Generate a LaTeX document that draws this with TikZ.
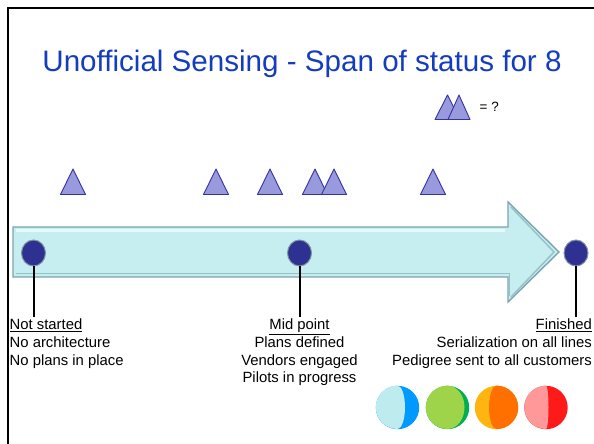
\documentclass[tikz,border=0pt]{standalone}
\usepackage{fontspec}
\setmainfont{Liberation Sans}
\usetikzlibrary{shapes.geometric}
\definecolor{titleblue}{RGB}{20,60,190}
\definecolor{trilav}{RGB}{153,153,221}
\definecolor{triedge}{RGB}{51,51,160}
\definecolor{navy}{RGB}{46,49,146}
\definecolor{dotedge}{RGB}{125,150,160}
\definecolor{arrfill}{RGB}{198,238,240}
\definecolor{arredge}{RGB}{125,165,175}
\definecolor{arrhi}{RGB}{228,249,250}
\definecolor{arrsh}{RGB}{150,195,200}
\definecolor{cAl}{RGB}{190,236,238}
\definecolor{cAd}{RGB}{0,153,255}
\definecolor{cBl}{RGB}{158,212,74}
\definecolor{cBd}{RGB}{0,176,80}
\definecolor{cCl}{RGB}{255,181,17}
\definecolor{cCd}{RGB}{255,112,0}
\definecolor{cDl}{RGB}{255,153,153}
\definecolor{cDd}{RGB}{255,26,26}
\begin{document}
\begin{tikzpicture}[x=1bp,y=-1bp,
  trifill/.style={fill=trilav, draw=triedge, line width=0.9bp, line join=round},
  tri/.pic={\path[trifill] (-12.5,12.75) -- (0,-12.75) -- (12.5,12.75) -- cycle;},
  dot/.style={ellipse, fill=navy, draw=dotedge, line width=1bp, minimum width=24bp, minimum height=26bp, inner sep=0pt},
  stem/.style={line width=2bp, black},
  lbl/.style={inner sep=0pt, font=\fontsize{14.9}{17.8}\selectfont},
  ball/.style={circle, minimum size=43.4bp, inner sep=0pt},
]
\useasboundingbox (0,0) rectangle (594,444);
\fill[white] (0,0) rectangle (594,444);
% frame
\draw[line width=2.4bp, black] (8,450) -- (8,8) -- (600,8);
% title
\node[anchor=base, inner sep=0pt, text=titleblue, font=\fontsize{29.7}{36}\selectfont] (title) at (302,72) {Unofficial Sensing - Span of status for 8};
% legend
\path[trifill] (435,119.5) -- (447.5,95) -- (460,119.5) -- cycle;
\path[trifill] (448,119.5) -- (459,95) -- (470,119.5) -- cycle;
\node[anchor=west, inner sep=0pt, font=\fontsize{13.5}{16}\selectfont] (legend) at (479.5,107) {= ?};
% triangles
\pic at (73,181.75) {tri};
\pic at (216,181.75) {tri};
\pic at (270,181.75) {tri};
\pic at (315,181.75) {tri};
\pic at (334,181.75) {tri};
\pic at (433,181.75) {tri};
% arrow
\path[fill=arrfill, draw=arredge, line width=1.4bp, line join=miter]
  (13,227) -- (508,227) -- (508,202) -- (559,252) -- (508,302) -- (508,277) -- (13,277) -- cycle;
\draw[arrhi, line width=2.5bp] (15.5,230.5) -- (505,230.5);
\draw[arrsh, line width=1.5bp] (15.5,273.5) -- (509.5,273.5) -- (509.5,296);
\draw[arrsh, line width=1.5bp] (511,207) -- (554,252) -- (511,297);
% dots
\node[dot] (d0) at (33.5,253) {};
\node[dot] (d1) at (299.5,253) {};
\node[dot] (d2) at (576,253) {};
\coordinate (e0) at (33.5,317);
\coordinate (e1) at (299.5,317);
\coordinate (e2) at (576,317);
\draw[stem] (d0.south) -- (e0);
\draw[stem] (d1.south) -- (e1);
\draw[stem] (d2.south) -- (e2);
% labels
\node[lbl, anchor=north west, align=left] (ns) at (9.5,318.8) {\underline{Not started}\\No architecture\\No plans in place};
\node[lbl, anchor=north, align=center] (mp) at (299.5,318.8) {\underline{Mid point}\\Plans defined\\Vendors engaged\\Pilots in progress};
\node[lbl, anchor=north east, align=right] (fi) at (592,318.8) {\underline{Finished}\\Serialization on all lines\\Pedigree sent to all customers};
% colour balls
\node[ball, fill=cAd] (b1) at (397.5,407.5) {};
\fill[cAl] (b1.north) arc[start angle=90, end angle=270, radius=21.7bp] arc[start angle=270, end angle=450, x radius=7.5bp, y radius=21.7bp] -- cycle;
\node[ball, fill=cBd] (b2) at (447.5,407.5) {};
\fill[cBl] (b2.north) arc[start angle=90, end angle=270, radius=21.7bp] arc[start angle=270, end angle=450, x radius=17bp, y radius=21.7bp] -- cycle;
\node[ball, fill=cCl] (b3) at (496.5,407.5) {};
\fill[cCd] (b3.north) arc[start angle=90, end angle=-90, radius=21.7bp] arc[start angle=-90, end angle=-270, x radius=7.5bp, y radius=21.7bp] -- cycle;
\node[ball, fill=cDd] (b4) at (546,407.5) {};
\fill[cDl] (b4.north) arc[start angle=90, end angle=270, radius=21.7bp] arc[start angle=270, end angle=450, x radius=2.5bp, y radius=21.7bp] -- cycle;
\end{tikzpicture}
\end{document}
